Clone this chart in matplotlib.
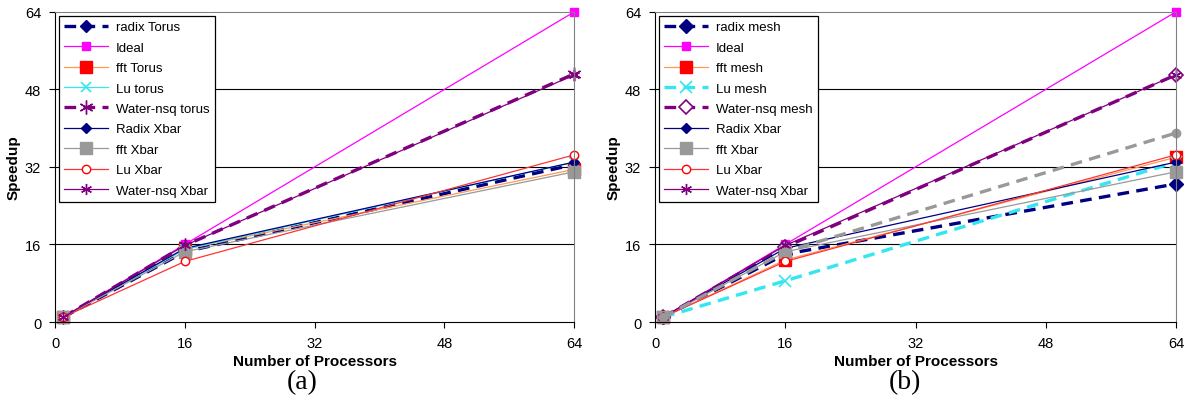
import matplotlib.pyplot as plt

plt.rcParams['font.family'] = ['Liberation Sans', 'DejaVu Sans']

# processors
procs = [1, 16, 64]

# panel (a): torus vs crossbar
radix_torus = [1, 14.5, 32.5]
ideal = [1, 16, 64]
fft_torus = [1, 15, 31.5]
lu_torus = [1, 15, 33]
water_torus = [1, 15.8, 51.2]
radix_xbar = [1, 15.2, 33]
fft_xbar = [1, 14.5, 31]
lu_xbar = [1, 12.5, 34.5]
water_xbar = [1, 15.8, 51]

# panel (b): mesh vs crossbar
radix_mesh = [1, 14, 28.5]
fft_mesh = [1, 12.8, 34]
lu_mesh = [1, 8.5, 33]
water_mesh = [1, 15.5, 51]
extra_gray = [1, 14.5, 39]

ticks = [0, 16, 32, 48, 64]

fig = plt.figure(figsize=(11.91, 4.06), dpi=100)

NAVY = '#000080'
PURP = '#800080'
GRAY = '#999999'


def style_axes(ax):
    ax.set_xlim(0, 64)
    ax.set_ylim(0, 64)
    ax.set_xticks(ticks)
    ax.set_yticks(ticks)
    ax.tick_params(direction='out', length=4, width=0.8, labelsize=10.5, pad=6)
    for y in [16, 32, 48]:
        ax.axhline(y, color='black', lw=0.8, zorder=0)
    ax.spines['top'].set_color('#808080')
    ax.spines['right'].set_color('#808080')
    ax.spines['left'].set_color('black')
    ax.spines['bottom'].set_color('black')
    ax.set_xlabel('Number of Processors', fontsize=11, fontweight='bold', labelpad=3)
    ax.set_ylabel('Speedup', fontsize=11, fontweight='bold', labelpad=3)
    for ln in ax.get_lines():
        ln.set_clip_on(False)


def xbar_series(ax):
    ax.plot(procs, radix_xbar, color=NAVY, lw=0.9, marker='D', ms=5, label='Radix Xbar')
    ax.plot(procs, fft_xbar, color=GRAY, lw=0.9, marker='s', ms=9, mec=GRAY, label='fft Xbar')
    ax.plot(procs, lu_xbar, color='#FF3333', lw=0.9, marker='o', ms=6, mfc='white',
            mec='red', label='Lu Xbar')
    ax.plot(procs, water_xbar, color=PURP, lw=0.9, marker=(6, 2, 0), ms=8, mec=PURP,
            label='Water-nsq Xbar')


def legend(ax):
    leg = ax.legend(loc='upper left', fontsize=9.5, handlelength=3.3, handletextpad=0.6,
                    labelspacing=0.62, borderpad=0.4, borderaxespad=0.3,
                    fancybox=False, framealpha=1, edgecolor='black')
    leg.get_frame().set_linewidth(0.9)


# ---- panel (a)
ax1 = fig.add_axes([0.0462, 0.2044, 0.436, 0.764])
ax1.plot(procs, radix_torus, color=NAVY, lw=2.4, dashes=(3.5, 2.2), marker='D', ms=6,
         label='radix Torus')
ax1.plot(procs, ideal, color='#FF00FF', lw=0.9, marker='s', ms=6, label='Ideal')
ax1.plot(procs, fft_torus, color='#FF9955', lw=0.9, marker='s', ms=9, mfc='red', mec='red',
         label='fft Torus')
ax1.plot(procs, lu_torus, color='#33E6F0', lw=0.9, marker='x', ms=7, mew=1.2, label='Lu torus')
ax1.plot(procs, water_torus, color=PURP, lw=2.4, dashes=(3.5, 2.2), marker=(6, 2, 0), ms=10,
         mec=PURP, label='Water-nsq torus')
xbar_series(ax1)
style_axes(ax1)
legend(ax1)
fig.text(0.254, 0.057, '(a)', ha='center', va='center', fontsize=20, family='Liberation Serif')

# ---- panel (b)
ax2 = fig.add_axes([0.550, 0.2044, 0.4374, 0.764])
ax2.plot(procs, radix_mesh, color=NAVY, lw=2.4, dashes=(3.5, 2.2), marker='D', ms=7,
         label='radix mesh')
ax2.plot(procs, ideal, color='#FF00FF', lw=0.9, marker='s', ms=6, label='Ideal')
ax2.plot(procs, fft_mesh, color='#FF9955', lw=0.9, marker='s', ms=9, mfc='red', mec='red',
         label='fft mesh')
ax2.plot(procs, lu_mesh, color='#33E6F0', lw=2.4, dashes=(3.5, 2.2), marker='x', ms=9,
         mew=1.2, label='Lu mesh')
ax2.plot(procs, water_mesh, color=PURP, lw=2.4, dashes=(3.5, 2.2), marker='D', ms=7,
         mfc='white', mec=PURP, mew=1.2, label='Water-nsq mesh')
xbar_series(ax2)
ax2.plot(procs, extra_gray, color=GRAY, lw=2.4, dashes=(3.5, 2.2), marker='o', ms=6,
         label='_nolegend_')
style_axes(ax2)
legend(ax2)
fig.text(0.760, 0.057, '(b)', ha='center', va='center', fontsize=20, family='Liberation Serif')

fig.savefig('out.png', dpi=100)
